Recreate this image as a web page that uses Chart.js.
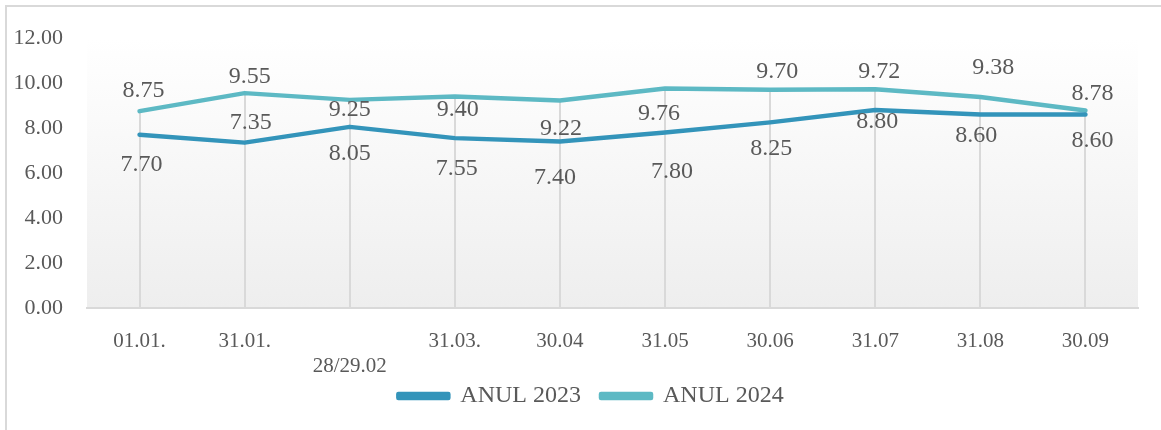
<!DOCTYPE html>
<html><head><meta charset="utf-8">
<script src="https://cdn.jsdelivr.net/npm/chart.js@4.4.1/dist/chart.umd.min.js"></script>
<style>html,body{margin:0;padding:0;background:#fff;}#wrap{width:1161px;height:430px;position:relative;}</style>
</head><body><div id="wrap"><canvas id="c" width="1161" height="430"></canvas></div>
<script>
const categories = ['01.01.', '31.01.', ['', '28/29.02'], '31.03.', '30.04', '31.05', '30.06', '31.07', '31.08', '30.09'];
const series2023 = [7.70, 7.35, 8.05, 7.55, 7.40, 7.80, 8.25, 8.80, 8.60, 8.60];
const series2024 = [8.75, 9.55, 9.25, 9.40, 9.22, 9.76, 9.70, 9.72, 9.38, 8.78];
const yTicks = [0, 2, 4, 6, 8, 10, 12];
const seriesNames = ['ANUL 2023', 'ANUL 2024'];

// label placement (style only): [dx, dy] from each point
const labelOffset2023 = [[2,30],[6,-20],[0,27],[2,31],[-5,36],[7,39],[1,26],[2,12],[-4,21],[7,26]];
const labelOffset2024 = [[4,-20],[5,-16],[0,10],[3,13],[1,28],[-6,25],[7,-18],[4,-18],[13,-29],[7,-17]];

const TEXT = '#595959';
const FONT = "'Liberation Serif', 'DejaVu Serif', serif";
const C2023 = '#3394BA';
const C2024 = '#5DB9C4';

const framePlugin = {
  id: 'frame',
  afterLayout(chart) {
    // centre the legend under the plot area (as in the reference)
    if (chart.legend) { chart.legend.left += 22; chart.legend.right += 22; }
  },
  beforeDraw(chart) {
    const {ctx, chartArea: a, width, height} = chart;
    ctx.save();
    ctx.fillStyle = '#fff';
    ctx.fillRect(0, 0, width, height);
    const g = ctx.createLinearGradient(0, a.top, 0, a.bottom);
    g.addColorStop(0, 'rgba(255,255,255,1)');
    g.addColorStop(1, '#eeeeee');
    ctx.fillStyle = g;
    ctx.fillRect(a.left, a.top, a.right - a.left, a.bottom - a.top);
    ctx.strokeStyle = '#d9d9d9';
    ctx.lineWidth = 2;
    ctx.beginPath();
    ctx.moveTo(6, height);
    ctx.lineTo(6, 6);
    ctx.lineTo(width, 6);
    ctx.stroke();
    ctx.restore();
  }
};

const dropLinePlugin = {
  id: 'dropLines',
  beforeDatasetsDraw(chart) {
    const {ctx, chartArea: a} = chart;
    const metas = chart.data.datasets.map((d, i) => chart.getDatasetMeta(i));
    ctx.save();
    ctx.strokeStyle = '#d9d9d9';
    ctx.lineWidth = 2;
    metas[0].data.forEach((pt, i) => {
      const top = Math.min(...metas.map(m => m.data[i].y));
      ctx.beginPath();
      ctx.moveTo(Math.round(pt.x), top);
      ctx.lineTo(Math.round(pt.x), a.bottom);
      ctx.stroke();
    });
    ctx.restore();
  }
};

const labelPlugin = {
  id: 'valueLabels',
  afterDatasetsDraw(chart) {
    const {ctx} = chart;
    const offsets = [labelOffset2023, labelOffset2024];
    ctx.save();
    ctx.fillStyle = TEXT;
    ctx.font = "24px " + FONT;
    ctx.textAlign = 'center';
    ctx.textBaseline = 'middle';
    chart.data.datasets.forEach((ds, di) => {
      const meta = chart.getDatasetMeta(di);
      meta.data.forEach((pt, i) => {
        const [dx, dy] = offsets[di][i];
        ctx.fillText(ds.data[i].toFixed(2), pt.x + dx, pt.y + dy);
      });
    });
    ctx.restore();
  }
};

new Chart(document.getElementById('c'), {
  type: 'line',
  data: {
    labels: categories,
    datasets: [
      { label: seriesNames[0], data: series2023, borderColor: C2023, backgroundColor: C2023, borderWidth: 4.5, pointRadius: 0, tension: 0, borderCapStyle: 'round', borderJoinStyle: 'round' },
      { label: seriesNames[1], data: series2024, borderColor: C2024, backgroundColor: C2024, borderWidth: 4.5, pointRadius: 0, tension: 0, borderCapStyle: 'round', borderJoinStyle: 'round' }
    ]
  },
  options: {
    responsive: false,
    animation: false,
    layout: { padding: { top: 38, right: 23, left: 0, bottom: 12 } },
    plugins: {
      legend: {
        position: 'bottom',
        labels: { boxWidth: 50, boxHeight: 4, color: TEXT, font: { family: FONT, size: 24 }, padding: 20 }
      },
      tooltip: { enabled: false }
    },
    scales: {
      x: {
        offset: true,
        grid: { display: false, drawTicks: false },
        border: { display: true, color: '#d9d9d9', width: 2 },
        ticks: { color: TEXT, font: { family: FONT, size: 21, lineHeight: 1.2 }, padding: 21, maxRotation: 0, autoSkip: false },
        afterFit(s) { s.height = 56; s._computeLabelArea = () => undefined; }
      },
      y: {
        min: 0, max: 12,
        grid: { display: false, drawTicks: false },
        border: { display: false },
        ticks: { color: TEXT, font: { family: FONT, size: 22 }, padding: 24, callback: v => Number(v).toFixed(2) },
        afterBuildTicks(s) { s.ticks = yTicks.map(v => ({ value: v })); },
        afterFit(s) { s.width = 87; }
      }
    }
  },
  plugins: [framePlugin, dropLinePlugin, labelPlugin]
});
</script></body></html>
